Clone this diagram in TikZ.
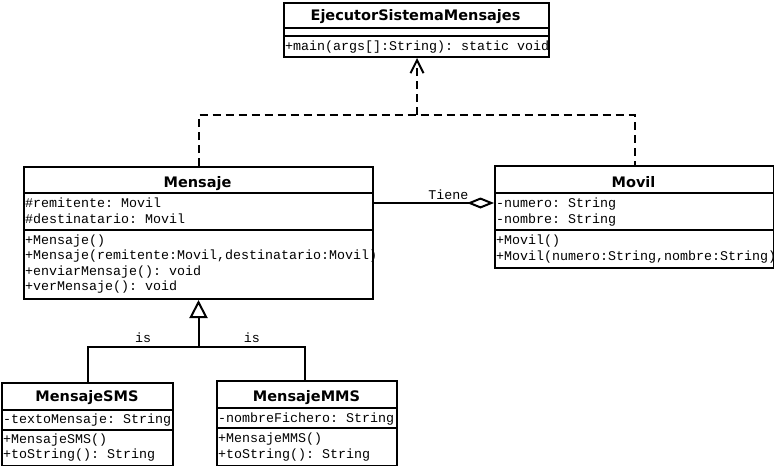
\documentclass[tikz,border=0pt]{standalone}
\usepackage{fontspec}
\setmainfont{DejaVu Sans}
\setmonofont{Liberation Mono}
\usetikzlibrary{arrows.meta}
\begin{document}
\begin{tikzpicture}[x=1pt,y=-1pt,
  umlbox/.style={draw,line width=2pt,inner sep=0pt,anchor=north west,fill=white},
  ttl/.style={font=\fontsize{14.5}{16}\selectfont\bfseries,inner sep=0pt,anchor=base},
  mem/.style={font=\fontsize{13.33}{15}\selectfont\ttfamily,inner sep=0pt,anchor=base west},
  sepline/.style={line width=2pt},
  conn/.style={line width=2pt},
  dep/.style={line width=2pt,dash pattern=on 8pt off 5pt},
  agg/.style={line width=2pt,-{Diamond[open,length=27pt,width=11pt,line width=2pt]}},
  gen/.style={line width=2pt,-{Triangle[open,length=18pt,width=18pt,line width=2pt]}},
  lbl/.style={font=\fontsize{13.33}{15}\selectfont\ttfamily,inner sep=0pt}]
\useasboundingbox[fill=white] (0,0) rectangle (774,466);

% ---------- EjecutorSistemaMensajes ----------
\node[umlbox,minimum width=265pt,minimum height=54pt] (ejec) at (283,2) {};
\draw[sepline] (ejec.west |- 0,28) -- (ejec.east |- 0,28);
\draw[sepline] (ejec.west |- 0,36) -- (ejec.east |- 0,36);
\node[ttl] (ejecT) at (415.5,20) {EjecutorSistemaMensajes};
\begin{scope}
\clip (ejec.north west) rectangle (ejec.south east);
\node[mem] (ejecM1) at (285,50) {+main(args[]:String): static void};
\end{scope}

% ---------- Mensaje ----------
\node[umlbox,minimum width=349pt,minimum height=132pt] (mensaje) at (23,166) {};
\draw[sepline] (mensaje.west |- 0,193) -- (mensaje.east |- 0,193);
\draw[sepline] (mensaje.west |- 0,230) -- (mensaje.east |- 0,230);
\node[ttl] (mensajeT) at (197.5,187) {Mensaje};
\node[mem] (menA1) at (25,207) {\#remitente: Movil};
\node[mem] (menA2) at (25,223) {\#destinatario: Movil};
\node[mem] (menM1) at (25,244) {+Mensaje()};
\node[mem] (menM2) at (25,259.5) {+Mensaje(remitente:Movil,destinatario:Movil)};
\node[mem] (menM3) at (25,275) {+enviarMensaje(): void};
\node[mem] (menM4) at (25,290.5) {+verMensaje(): void};

% ---------- Movil ----------
\node[umlbox,minimum width=279pt,minimum height=102pt] (movil) at (494,165) {};
\draw[sepline] (movil.west |- 0,193) -- (movil.east |- 0,193);
\draw[sepline] (movil.west |- 0,230) -- (movil.east |- 0,230);
\node[ttl] (movilT) at (633.5,187) {Movil};
\begin{scope}
\clip (movil.north west) rectangle (movil.south east);
\node[mem] (movA1) at (496,207) {-numero: String};
\node[mem] (movA2) at (496,223.5) {-nombre: String};
\node[mem] (movM1) at (496,244) {+Movil()};
\node[mem] (movM2) at (496,260.5) {+Movil(numero:String,nombre:String)};
\end{scope}

% ---------- MensajeSMS ----------
\node[umlbox,minimum width=171pt,minimum height=83pt] (sms) at (1,382) {};
\draw[sepline] (sms.west |- 0,410) -- (sms.east |- 0,410);
\draw[sepline] (sms.west |- 0,430) -- (sms.east |- 0,430);
\node[ttl] (smsT) at (87,401) {MensajeSMS};
\begin{scope}
\clip (sms.north west) rectangle (sms.south east);
\node[mem] (smsA1) at (3,423) {-textoMensaje: String};
\node[mem] (smsM1) at (3,443) {+MensajeSMS()};
\node[mem] (smsM2) at (3,458) {+toString(): String};
\end{scope}

% ---------- MensajeMMS ----------
\node[umlbox,minimum width=180pt,minimum height=85pt] (mms) at (216,380) {};
\draw[sepline] (mms.west |- 0,408) -- (mms.east |- 0,408);
\draw[sepline] (mms.west |- 0,428) -- (mms.east |- 0,428);
\node[ttl] (mmsT) at (306.5,401) {MensajeMMS};
\begin{scope}
\clip (mms.north west) rectangle (mms.south east);
\node[mem] (mmsA1) at (218,422) {-nombreFichero: String};
\node[mem] (mmsM1) at (218,442) {+MensajeMMS()};
\node[mem] (mmsM2) at (218,458) {+toString(): String};
\end{scope}

% ---------- Dependencies ----------
\coordinate (dj) at (417,115);
\draw[dep] (mensaje.north) |- (dj) -| (movil.north);
\draw[dep,-{Straight Barb[length=13pt,width=13pt,line width=2pt]}] (dj) -- (dj |- ejec.south);

% ---------- Aggregation ----------
\coordinate (aggy) at (0,203);
\draw[agg] (mensaje.east |- aggy) -- (movil.west |- aggy)
  node[lbl,pos=0.62,above=2pt] (tiene) {Tiene};

% ---------- Generalization ----------
\coordinate (gj) at (mensaje.south |- 0,347);
\draw[conn] (sms.north) |- (gj) node[lbl,pos=0.75,above=3pt] (is1) {is};
\draw[conn] ([xshift=-2pt]mms.north) |- (gj) node[lbl,pos=0.75,above=3pt] (is2) {is};
\draw[gen] (gj) -- (mensaje.south);
\end{tikzpicture}
\end{document}
